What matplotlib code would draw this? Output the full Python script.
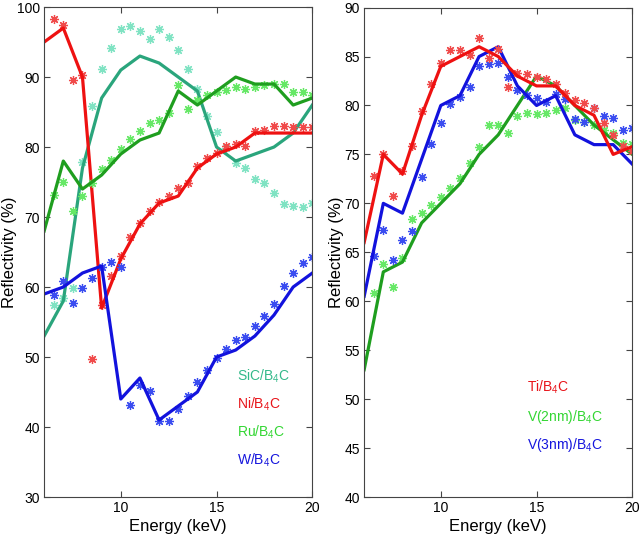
import numpy as np
import matplotlib.pyplot as plt

plt.rcParams['font.family'] = ['Liberation Sans', 'DejaVu Sans']
plt.rcParams['mathtext.default'] = 'regular'

# energias (keV): simulacion en pasos de 1, medidas en pasos de 0.5
e_sim = np.arange(6, 21, 1)
e_exp = np.arange(6.5, 20.01, 0.5)

# panel izquierdo
sic_line = [53, 58, 77, 87, 91, 93, 92, 90, 88, 80, 78, 79, 80, 82, 86]
ni_line = [95, 97, 90, 57, 64, 69, 72, 73, 77, 79, 80, 82, 82, 82, 82]
ru_line = [68, 78, 74, 76, 79, 81, 82, 88, 86, 88, 90, 89, 89, 86, 87]
w_line = [59, 60, 62, 63, 44, 47, 41, 43, 45, 50, 51, 53, 56, 60, 62]

sic_exp = [57.4, 58.5, 59.8, 77.8, 85.9, 91.2, 94.1, 96.8, 97.3, 96.6, 95.5, 96.8, 95.7, 93.9,
           91.1, 88.3, 84.4, 82.2, 79.8, 77.7, 77.0, 75.5, 74.9, 73.5, 71.9, 71.6, 71.4, 72.0]
ni_exp = [98.3, 97.4, 89.6, 90.3, 49.7, 57.4, 61.6, 64.4, 67.2, 69.2, 70.9, 72.2, 73.0, 74.1,
          74.9, 77.3, 78.4, 79.1, 80.1, 80.5, 80.1, 82.3, 82.4, 83.0, 83.0, 82.8, 82.8, 82.8]
ru_exp = [73.1, 75.0, 70.9, 73.0, 74.9, 76.8, 78.2, 79.7, 81.1, 82.3, 83.5, 83.9, 84.8, 88.9,
          85.4, 86.7, 87.4, 87.8, 88.1, 88.6, 88.3, 88.6, 88.9, 89.0, 89.0, 87.9, 87.8, 87.5]
w_exp = [58.9, 60.8, 57.7, 59.8, 61.3, 62.8, 63.6, 62.8, 43.1, 46.0, 45.1, 40.9, 40.9, 42.6,
         44.4, 46.5, 48.1, 49.8, 51.1, 52.4, 52.9, 54.5, 55.9, 57.6, 60.1, 62.0, 63.5, 64.3]

# panel derecho
ti_line = [66, 75, 73, 79, 84, 85, 86, 85, 83, 82, 82, 80, 79, 75, 75.8]
v2_line = [53, 63, 64, 68, 70, 72, 75, 77, 80, 83, 82, 80, 78, 76.5, 75]
v3_line = [60.5, 70, 69, 74.5, 80, 81, 85, 86, 82, 80, 81, 77, 76, 76, 74]

ti_exp = [72.8, 75.0, 70.8, 73.3, 75.9, 79.4, 82.2, 84.3, 85.7, 85.7, 85.2, 86.9, 84.8, 85.8,
          81.9, 83.3, 83.2, 82.9, 82.7, 82.2, 81.3, 80.6, 80.3, 79.7, 78.2, 77.0, 75.9, 75.4]
v2_exp = [60.8, 63.8, 61.5, 64.4, 68.4, 69.0, 69.8, 70.6, 71.6, 72.6, 74.1, 75.8, 78.0, 78.0,
          77.2, 78.9, 79.2, 79.1, 79.2, 79.5, 79.7, 78.5, 78.3, 78.0, 77.5, 77.2, 76.2, 76.1]
v3_exp = [64.6, 67.3, 64.2, 66.3, 67.2, 72.7, 76.1, 78.2, 80.1, 80.9, 81.9, 84.0, 84.2, 84.3,
          82.9, 81.6, 81.1, 80.8, 80.4, 81.2, 80.7, 78.6, 78.3, 79.7, 78.9, 78.7, 77.5, 77.7]

left_labels = ['SiC/B$_4$C', 'Ni/B$_4$C', 'Ru/B$_4$C', 'W/B$_4$C']
right_labels = ['Ti/B$_4$C', 'V(2nm)/B$_4$C', 'V(3nm)/B$_4$C']

RED, RED_L = '#ee1111', '#f04a4a'
TEAL, TEAL_L = '#2aa57c', '#80e3c3'
GREEN, GREEN_L = '#1f9e1f', '#66e866'
BLUE, BLUE_L = '#1212dd', '#3a4cf0'
asterisco = (8, 2, 0)

fig = plt.figure(figsize=(6.4, 5.42), dpi=100)
ax1 = fig.add_axes([0.069, 0.083, 0.419, 0.904])
ax2 = fig.add_axes([0.569, 0.083, 0.419, 0.903])


def serie(ax, y_line, y_exp, c_line, c_exp):
    ax.plot(e_exp, y_exp, linestyle='none', marker=asterisco, markersize=6.5,
            markeredgewidth=0.9, color=c_exp)
    ax.plot(e_sim, y_line, color=c_line, linewidth=2.3)


serie(ax1, sic_line, sic_exp, TEAL, TEAL_L)
serie(ax1, ni_line, ni_exp, RED, RED_L)
serie(ax1, ru_line, ru_exp, GREEN, GREEN_L)
serie(ax1, w_line, w_exp, BLUE, BLUE_L)

serie(ax2, v2_line, v2_exp, GREEN, GREEN_L)
serie(ax2, v3_line, v3_exp, BLUE, BLUE_L)
serie(ax2, ti_line, ti_exp, RED, RED_L)

# etiquetas de las series
for lab, col, yb in zip(left_labels, ['#33b98a', '#e8141a', '#33d633', '#1515dd'],
                        [46.7, 42.7, 38.7, 34.7]):
    ax1.text(16.05, yb, lab, color=col, fontsize=10, va='baseline', ha='left')
for lab, col, yb in zip(right_labels, ['#e8141a', '#33d633', '#1515dd'],
                        [50.8, 47.8, 44.9]):
    ax2.text(14.5, yb, lab, color=col, fontsize=10, va='baseline', ha='left')

ax1.set_ylim(30, 100)
ax1.set_yticks(range(30, 101, 10))
ax2.set_ylim(40, 90)
ax2.set_yticks(range(40, 91, 5))

for ax in (ax1, ax2):
    ax.set_xlim(6, 20)
    ax.set_xticks([10, 15, 20])
    ax.tick_params(direction='in', top=True, right=True, labelsize=10,
                   length=4, color='#444444', pad=3)
    for s in ax.spines.values():
        s.set_color('#444444')
        s.set_linewidth(0.8)
    ax.set_xlabel('Energy (keV)', fontsize=12, labelpad=3)
    ax.set_ylabel('Reflectivity (%)', fontsize=12, labelpad=0)

plt.savefig('out.png', dpi=100)
